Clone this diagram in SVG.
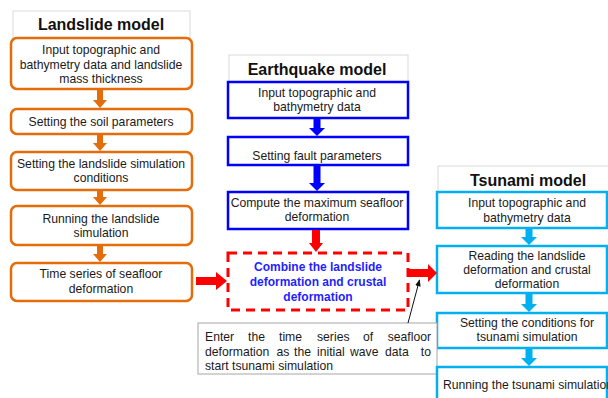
<svg xmlns="http://www.w3.org/2000/svg" width="608" height="398" viewBox="0 0 608 398">
<defs>
<style>
.t{font-family:"Liberation Sans",Arial,sans-serif;font-size:12.2px;fill:#1a1a1a;text-anchor:middle}
.ti{font-family:"Liberation Sans",Arial,sans-serif;font-size:16px;font-weight:bold;fill:#111;text-anchor:middle}
.tb{fill:#fff;stroke:#d9d9d9;stroke-width:1}
.ob{fill:#fff;stroke:#E46C0A;stroke-width:2.5}
.bb{fill:#fff;stroke:#0000FF;stroke-width:2.5}
.cb{fill:#fff;stroke:#00B0F0;stroke-width:2.5}
.oa{fill:#E46C0A}
.ba{fill:#0000FF}
.ca{fill:#00B0F0}
.ra{fill:#FF0000}
.an{font-family:"Liberation Sans",Arial,sans-serif;font-size:12.2px;fill:#1a1a1a}
.cm{font-family:"Liberation Sans",Arial,sans-serif;font-size:12px;font-weight:bold;fill:#1f1fff;text-anchor:middle}
</style>
<marker id="ah" viewBox="0 0 10 10" refX="9" refY="5" markerWidth="7" markerHeight="7" orient="auto">
<path d="M0,1 L10,5 L0,9 z" fill="#111"/>
</marker>
</defs>
<rect width="608" height="398" fill="#fff"/>

<!-- Landslide model -->
<g id="landslide-title">
<rect class="tb" x="13" y="11" width="177" height="27"/>
<text class="ti" x="101" y="30">Landslide model</text>
</g>
<g id="ls1">
<rect class="ob" x="11" y="38" width="181" height="51" rx="6"/>
<text class="t" x="101" y="54">Input topographic and</text>
<text class="t" x="101" y="68.5">bathymetry data and landslide</text>
<text class="t" x="101" y="83">mass thickness</text>
</g>
<g id="ls2">
<rect class="ob" x="11" y="109" width="181" height="25" rx="6"/>
<text class="t" x="101" y="126">Setting the soil parameters</text>
</g>
<g id="ls3">
<rect class="ob" x="11" y="152" width="181" height="38" rx="6"/>
<text class="t" x="101" y="168">Setting the landslide simulation</text>
<text class="t" x="101" y="182">conditions</text>
</g>
<g id="ls4">
<rect class="ob" x="11" y="206" width="181" height="39" rx="6"/>
<text class="t" x="101" y="223">Running the landslide</text>
<text class="t" x="101" y="237">simulation</text>
</g>
<g id="ls5">
<rect class="ob" x="11" y="263" width="181" height="38" rx="6"/>
<text class="t" x="101" y="278">Time series of seafloor</text>
<text class="t" x="101" y="293">deformation</text>
</g>

<!-- Earthquake model -->
<g id="eq-title">
<rect class="tb" x="229" y="55" width="179" height="27"/>
<text class="ti" x="317" y="75">Earthquake model</text>
</g>
<g id="eq1">
<rect class="bb" x="228" y="82" width="180" height="36"/>
<text class="t" x="317" y="97">Input topographic and</text>
<text class="t" x="317" y="111">bathymetry data</text>
</g>
<g id="eq2">
<rect class="bb" x="228" y="137" width="180" height="28"/>
<text class="t" x="317" y="160">Setting fault parameters</text>
</g>
<g id="eq3">
<rect class="bb" x="228" y="192" width="180" height="37"/>
<text class="t" x="317" y="207">Compute the maximum seafloor</text>
<text class="t" x="317" y="221">deformation</text>
</g>

<!-- Combine -->
<g id="combine">
<rect x="228" y="253" width="180" height="57" fill="#fff" stroke="#FF0000" stroke-width="3" stroke-dasharray="9 6"/>
<text class="cm" x="318" y="271">Combine the landslide</text>
<text class="cm" x="318" y="286">deformation and crustal</text>
<text class="cm" x="318" y="301">deformation</text>
</g>

<!-- Tsunami model -->
<g id="ts-title">
<rect class="tb" x="438" y="166" width="175" height="26"/>
<text class="ti" x="528" y="186">Tsunami model</text>
</g>
<g id="ts1">
<rect class="cb" x="437" y="192" width="170" height="36"/>
<text class="t" x="527" y="207">Input topographic and</text>
<text class="t" x="527" y="222">bathymetry data</text>
</g>
<g id="ts2">
<rect class="cb" x="437" y="246" width="170" height="47"/>
<text class="t" x="527" y="260">Reading the landslide</text>
<text class="t" x="527" y="274">deformation and crustal</text>
<text class="t" x="527" y="288">deformation</text>
</g>
<g id="ts3">
<rect class="cb" x="437" y="313" width="170" height="35"/>
<text class="t" x="527" y="327">Setting the conditions for</text>
<text class="t" x="527" y="341">tsunami simulation</text>
</g>

<!-- Annotation -->
<g id="note">
<rect x="198" y="323" width="239" height="51" fill="#fff" stroke="#a6a6a6" stroke-width="1"/>
<text class="an" y="341"><tspan x="205">Enter</tspan><tspan x="248">the</tspan><tspan x="279">time</tspan><tspan x="317">series</tspan><tspan x="363">of</tspan><tspan x="431" text-anchor="end">seafloor</tspan></text>
<text class="an" y="355.5"><tspan x="205">deformation</tspan><tspan x="276.5">as</tspan><tspan x="294">the</tspan><tspan x="317">initial</tspan><tspan x="350">wave</tspan><tspan x="385">data</tspan><tspan x="431" text-anchor="end">to</tspan></text>
<text class="an" x="205" y="370">start tsunami simulation</text>
</g>

<g id="ts4">
<rect class="cb" x="437" y="367" width="170" height="40"/>
<text class="t" x="528" y="389">Running the tsunami simulation</text>
</g>

<!-- Connectors -->
<g id="connectors">
<polygon class="oa" points="97,90 103,90 103,100 107,100 100,108 93,100 97,100"/>
<polygon class="oa" points="97,135 103,135 103,143 107,143 100,151 93,143 97,143"/>
<polygon class="oa" points="97,191 103,191 103,197 107,197 100,205 93,197 97,197"/>
<polygon class="oa" points="97,246 103,246 103,254 107,254 100,262 93,254 97,254"/>

<polygon class="ba" points="313.5,119 320.5,119 320.5,128 325,128 317,136 309,128 313.5,128"/>
<polygon class="ba" points="313.5,166 320.5,166 320.5,183 325,183 317,191 309,183 313.5,183"/>

<polygon class="ca" points="525.5,229 532.5,229 532.5,237 537,237 529,245 521,237 525.5,237"/>
<polygon class="ca" points="525.5,294 532.5,294 532.5,304 537,304 529,312 521,304 525.5,304"/>
<polygon class="ca" points="525.5,349 532.5,349 532.5,358 537,358 529,366 521,358 525.5,358"/>

<polygon class="ra" points="312,230 320,230 320,243 323,243 316,252 309,243 312,243"/>
<polygon class="ra" points="196,277 216,277 216,272 227,281 216,290 216,285 196,285"/>
<polygon class="ra" points="409,269 428,269 428,264 437,273 428,282 428,277 409,277"/>

<line x1="408" y1="323" x2="419.5" y2="280" stroke="#111" stroke-width="1" marker-end="url(#ah)"/>
</g>
</svg>
